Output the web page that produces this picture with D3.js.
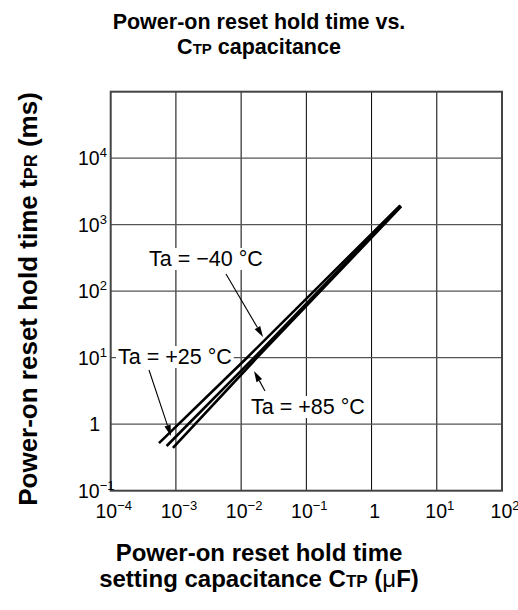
<!DOCTYPE html>
<html><head><meta charset="utf-8">
<script src="https://cdn.jsdelivr.net/npm/d3@7"></script>
<style>body{margin:0;background:#fff} text{font-family:"Liberation Sans",Arial,Helvetica,sans-serif;fill:#000}</style>
</head><body><svg id="c" width="518" height="610"></svg>
<script>
// ---- data ----
const xTickExps = [-4, -3, -2, -1, 0, 1, 2];
const yTickExps = [-1, 0, 1, 2, 3, 4];
const seriesNames = ["Ta = −40 °C", "Ta = +25 °C", "Ta = +85 °C"];
const capM40 = [5.5e-4, 1.23e-2, 2.75];
const timeM40 = [0.52, 10, 1950];
const capP25 = [7.2e-4, 1.58e-2, 2.8];
const timeP25 = [0.47, 10, 1920];
const capP85 = [9.0e-4, 1.75e-2, 2.85];
const timeP85 = [0.44, 10, 1880];

const svg = d3.select("#c");
const L = 110.7, R = 502, T = 91.7, B = 490.7;
const x = d3.scaleLog().domain([1e-4, 1e2]).range([L, R]);
const y = d3.scaleLog().domain([1e-1, 1e5]).range([B, T]);

// grid
const g = svg.append("g");
g.selectAll("line.v").data(xTickExps.slice(1, -1)).join("line")
  .attr("x1", d => x(Math.pow(10, d))).attr("x2", d => x(Math.pow(10, d)))
  .attr("y1", T).attr("y2", B).attr("stroke", "#000").attr("stroke-width", 1);
g.selectAll("line.h").data([0, 1, 2, 3, 4]).join("line")
  .attr("y1", d => y(Math.pow(10, d))).attr("y2", d => y(Math.pow(10, d)))
  .attr("x1", L).attr("x2", R).attr("stroke", "#555").attr("stroke-width", 1.3);

// series
const series = [
  {name: seriesNames[0], c: capM40, t: timeM40},
  {name: seriesNames[1], c: capP25, t: timeP25},
  {name: seriesNames[2], c: capP85, t: timeP85}
];
const line = d3.line().x(d => x(d[0])).y(d => y(d[1]));
series.forEach(s => {
  svg.append("path").attr("d", line(s.c.map((c, i) => [c, s.t[i]])))
    .attr("fill", "none").attr("stroke", "#000").attr("stroke-width", 2.6);
});

// frame
svg.append("rect").attr("x", L).attr("y", T).attr("width", R - L).attr("height", B - T)
  .attr("fill", "none").attr("stroke", "#444").attr("stroke-width", 2);

// tick labels
xTickExps.forEach(e => {
  const t = svg.append("text").attr("x", x(Math.pow(10, e)) + 3).attr("y", 518)
    .attr("text-anchor", "middle").attr("font-size", 19.5);
  if (e === 0) { t.text("1"); }
  else {
    t.append("tspan").text("10");
    t.append("tspan").attr("font-size", 13).attr("dy", -8).text(e < 0 ? "−" + (-e) : String(e));
  }
});
yTickExps.forEach(e => {
  const yy = y(Math.pow(10, e)) + 7;
  if (e === 0) {
    svg.append("text").attr("x", 100).attr("y", yy).attr("text-anchor", "end").attr("font-size", 19.5).text("1");
  } else {
    const t = svg.append("text").attr("x", 78).attr("y", yy).attr("font-size", 19.5);
    t.append("tspan").text("10");
    t.append("tspan").attr("font-size", 13).attr("dy", -8).text(e < 0 ? "−" + (-e) : String(e));
  }
});

// annotations
function label(txt, tx, ty, x1, y1, x2, y2) {
  const ang = Math.atan2(y2 - y1, x2 - x1);
  const len = 11, w = 3.2;
  const bx = x2 - len * Math.cos(ang), by = y2 - len * Math.sin(ang);
  svg.append("line").attr("x1", x1).attr("y1", y1).attr("x2", bx).attr("y2", by)
    .attr("stroke", "#000").attr("stroke-width", 1.1);
  svg.append("path").attr("d", `M${x2},${y2}L${bx - w * Math.sin(ang)},${by + w * Math.cos(ang)}L${bx + w * Math.sin(ang)},${by - w * Math.cos(ang)}Z`)
    .attr("fill", "#000");
  const t = svg.append("text").attr("x", tx).attr("y", ty).attr("font-size", 21.5).text(txt);
  const bb = t.node().getBBox();
  svg.insert("rect", () => t.node()).attr("x", bb.x - 2).attr("y", bb.y + 1).attr("width", bb.width + 4).attr("height", bb.height - 2).attr("fill", "#fff");
}
label(seriesNames[0], 149, 266, 226, 274, 263, 337);
label(seriesNames[1], 118, 364, 149, 370, 171, 436);
label(seriesNames[2], 251, 414, 265, 391, 254, 371);

// titles
svg.append("text").attr("x", 259).attr("y", 29).attr("text-anchor", "middle")
  .attr("font-size", 21.5).attr("font-weight", "bold").text("Power-on reset hold time vs.");
const t2 = svg.append("text").attr("x", 259).attr("y", 54).attr("text-anchor", "middle")
  .attr("font-size", 21.5).attr("font-weight", "bold");
t2.append("tspan").text("C");
t2.append("tspan").attr("font-size", 15).text("TP");
t2.append("tspan").text(" capacitance");

svg.append("text").attr("x", 259).attr("y", 561).attr("text-anchor", "middle")
  .attr("font-size", 24).attr("font-weight", "bold").text("Power-on reset hold time");
const xt2 = svg.append("text").attr("x", 259).attr("y", 587).attr("text-anchor", "middle")
  .attr("font-size", 24).attr("font-weight", "bold");
xt2.append("tspan").text("setting capacitance C");
xt2.append("tspan").attr("font-size", 17).text("TP");
xt2.append("tspan").text(" (");
xt2.append("tspan").attr("font-weight", "normal").text("μ");
xt2.append("tspan").text("F)");

const yt = svg.append("text").attr("transform", "translate(37,299) rotate(-90)").attr("text-anchor", "middle")
  .attr("font-size", 26).attr("font-weight", "bold");
yt.append("tspan").text("Power-on reset hold time t");
yt.append("tspan").attr("font-size", 18).text("PR");
yt.append("tspan").text(" (ms)");
</script></body></html>
